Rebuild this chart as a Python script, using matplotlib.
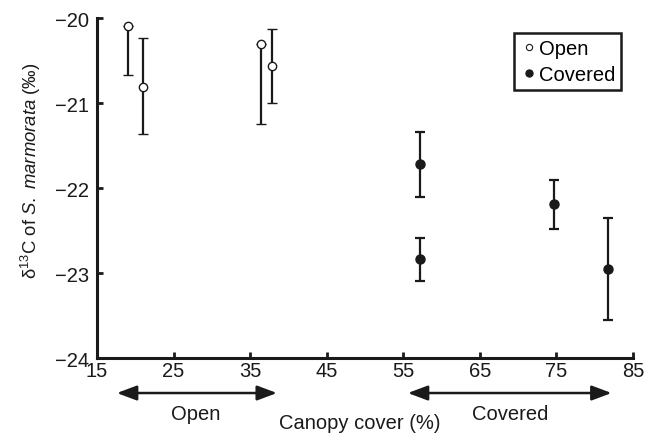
import matplotlib
matplotlib.use("Agg")
import matplotlib.pyplot as plt
from matplotlib.lines import Line2D

plt.rcParams['font.family'] = ['Liberation Sans', 'DejaVu Sans']
plt.rcParams['mathtext.fontset'] = 'custom'
plt.rcParams['mathtext.rm'] = 'Liberation Sans'
plt.rcParams['mathtext.it'] = 'Liberation Sans:italic'

# ===============================
# DATA
# ===============================
open_x = [19.0, 21.0, 36.4, 37.9]
open_y = [-20.09, -20.81, -20.31, -20.56]
open_err_lo = [0.58, 0.56, 0.94, 0.44]
open_err_hi = [0.0, 0.57, 0.0, 0.43]

cov_x = [57.2, 57.2, 74.7, 81.7]
cov_y = [-21.72, -22.84, -22.19, -22.95]
cov_err = [0.38, 0.25, 0.29, 0.60]

xticks = [15, 25, 35, 45, 55, 65, 75, 85]
yticks = [-24, -23, -22, -21, -20]

INK = '#1a1a1a'

# ===============================
# PLOT
# ===============================
fig = plt.figure(figsize=(6.58, 4.35), dpi=100)
ax = fig.add_axes([0.1474, 0.1747, 0.8146, 0.7816])

ax.errorbar(open_x, open_y, yerr=[open_err_lo, open_err_hi], fmt='o',
            color=INK, mfc='white', mec=INK, mew=1.0, ms=6,
            elinewidth=1.6, capsize=3.5, capthick=1.6, zorder=3)
ax.errorbar(cov_x, cov_y, yerr=cov_err, fmt='o',
            color=INK, mfc=INK, mec=INK, ms=6.5,
            elinewidth=1.6, capsize=3.5, capthick=1.6, zorder=3)

ax.set_xlim(15, 85)
ax.set_ylim(-24, -20)
ax.set_xticks(xticks)
ax.set_yticks(yticks)
ax.set_yticklabels([f'\u2212{abs(v)}' for v in yticks])

for s in ['top', 'right']:
    ax.spines[s].set_visible(False)
for s in ['left', 'bottom']:
    ax.spines[s].set_linewidth(2.2)
    ax.spines[s].set_color(INK)
ax.tick_params(direction='in', length=4, width=2, labelsize=14.5,
               colors=INK, pad=2)
ax.tick_params(axis='y', pad=6)

ax.set_ylabel('\u03b4$^{13}$C of $\\it{S.\\ marmorata}$ (\u2030)', fontsize=13.3,
              color=INK)
ax.yaxis.set_label_coords(-0.1, 0.553)

# group arrows under the axis
trans = ax.get_xaxis_transform()
arrow_kw = dict(arrowstyle='<|-|>,head_length=1.2,head_width=0.45',
                color=INK, lw=1.8, shrinkA=0, shrinkB=0)
ax.annotate('', xy=(38.5, -0.103), xytext=(17.6, -0.103),
            xycoords=trans, textcoords=trans, arrowprops=arrow_kw,
            annotation_clip=False)
ax.annotate('', xy=(82.2, -0.103), xytext=(55.6, -0.103),
            xycoords=trans, textcoords=trans, arrowprops=arrow_kw,
            annotation_clip=False)
ax.text(27.9, -0.163, 'Open', transform=trans, ha='center', va='center',
        fontsize=14.5, color=INK)
ax.text(68.9, -0.163, 'Covered', transform=trans, ha='center', va='center',
        fontsize=14.5, color=INK)
ax.text(49.3, -0.19, 'Canopy cover (%)', transform=trans, ha='center',
        va='center', fontsize=14.5, color=INK)

# legend shows markers only, no error bars
handles = [Line2D([], [], ls='none', marker='o', ms=4.5, mfc='white',
                  mec=INK, mew=0.8),
           Line2D([], [], ls='none', marker='o', ms=5, mfc=INK, mec=INK)]
leg = ax.legend(handles, ['Open', 'Covered'], loc='upper right',
                bbox_to_anchor=(0.978, 0.956),
                fontsize=14.5, frameon=True, fancybox=False,
                handletextpad=0.05, handlelength=0.9, borderpad=0.3,
                labelspacing=0.35, borderaxespad=0.0, framealpha=1)
leg.get_frame().set_edgecolor(INK)
leg.get_frame().set_linewidth(1.8)

fig.savefig('out.png', dpi=100)
